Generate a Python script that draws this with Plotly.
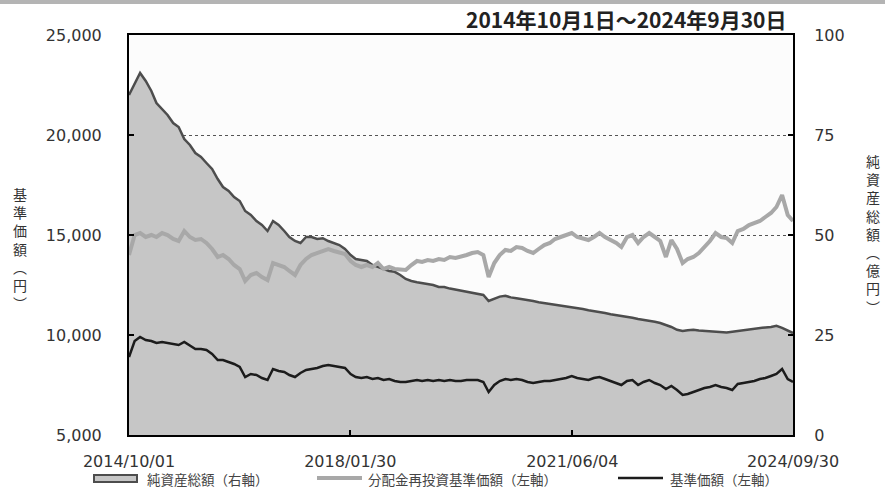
import pandas as pd
import plotly.graph_objects as go

# Monthly observation dates (first business day of each month) + final date
dates = [d.strftime("%Y-%m-%d") for d in pd.date_range("2014-10-01", "2024-09-01", freq="MS")] + ["2024-09-30"]

# 純資産総額（億円） right axis
net_assets = [
    85, 88, 90.5, 88.5, 86, 83, 81.5, 80, 78, 77,
    74, 72.5, 70.5, 69.5, 68, 66.5, 64, 62, 61, 59.5,
    58.5, 56, 55, 53.5, 52.5, 51, 53.5, 52.5, 51, 49.5,
    48.5, 48, 49.5, 49.5, 49, 49.2, 48.5, 48, 47.5, 46.5,
    45, 44, 43.8, 43.5, 42.5, 42, 41.5, 41, 40.8, 40,
    39, 38.5, 38.2, 38, 37.7, 37.5, 37, 37, 36.6, 36.3,
    36, 35.8, 35.5, 35.2, 35, 33.5, 34, 34.6, 34.8, 34.4,
    34.2, 34, 33.7, 33.5, 33.2, 33, 32.8, 32.5, 32.3, 32.2,
    32, 31.8, 31.5, 31.2, 31, 30.8, 30.5, 30.2, 30, 29.8,
    29.5, 29.3, 29, 28.8, 28.6, 28.3, 28, 27.5, 27, 26.3,
    26, 26.2, 26.3, 26.1, 26, 25.9, 25.8, 25.6, 25.6, 25.8,
    26, 26.2, 26.3, 26.5, 26.7, 26.9, 27, 27.3, 26.8, 26.2,
    25.5,
]

# 分配金再投資基準価額（円） left axis
reinvested_nav = [
    14000, 15000, 15100, 14900, 15000, 14900, 15100, 15000, 14800, 14700,
    15200, 14900, 14750, 14800, 14600, 14300, 13900, 14000, 13800, 13500,
    13300, 12700, 13000, 13100, 12900, 12750, 13600, 13500, 13400, 13200,
    13000, 13500, 13800, 14000, 14100, 14200, 14300, 14200, 14150, 14050,
    13700, 13500, 13400, 13500, 13400, 13600, 13300, 13400, 13300, 13250,
    13250, 13500, 13700, 13650, 13750, 13700, 13800, 13750, 13900, 13850,
    13900, 14000, 14100, 14150, 14000, 12900, 13600, 14000, 14250, 14200,
    14400, 14350, 14200, 14100, 14300, 14500, 14600, 14800, 14900, 15000,
    15100, 14900, 14850, 14750, 14900, 15100, 14900, 14750, 14600, 14400,
    14900, 15000, 14600, 14900, 15100, 14900, 14700, 13900, 14750, 14300,
    13600, 13800, 13900, 14100, 14400, 14700, 15100, 14900, 14850, 14600,
    15200, 15300, 15500, 15600, 15700, 15900, 16100, 16400, 17000, 16000,
    15700,
]

# 基準価額（円） left axis
nav = [
    8900, 9700, 9900, 9750, 9700, 9600, 9650, 9600, 9550, 9500,
    9650, 9450, 9300, 9300, 9250, 9050, 8750, 8750, 8650, 8550,
    8400, 7900, 8050, 8000, 7850, 7750, 8300, 8200, 8150, 8000,
    7900, 8100, 8250, 8300, 8350, 8450, 8500, 8450, 8400, 8350,
    8050, 7900, 7850, 7900, 7800, 7850, 7750, 7800, 7700, 7650,
    7650, 7700, 7750, 7700, 7750, 7700, 7750, 7700, 7750, 7700,
    7700, 7750, 7750, 7750, 7650, 7150, 7500, 7700, 7800, 7750,
    7800, 7750, 7650, 7600, 7650, 7700, 7700, 7750, 7800, 7850,
    7950, 7850, 7800, 7750, 7850, 7900, 7800, 7700, 7600, 7500,
    7700, 7750, 7500, 7650, 7750, 7600, 7500, 7300, 7450, 7250,
    7000, 7050, 7150, 7250, 7350, 7400, 7500, 7400, 7350, 7250,
    7550, 7600, 7650, 7700, 7800, 7850, 7950, 8050, 8300, 7800,
    7650,
]

x_tickvals = ["2014-10-01", "2018-01-30", "2021-06-04", "2024-09-30"]
x_ticktext = ["2014/10/01", "2018/01/30", "2021/06/04", "2024/09/30"]
left_ticks = [5000, 10000, 15000, 20000, 25000]
right_ticks = [0, 25, 50, 75, 100]

title_text = "2014年10月1日～2024年9月30日"
legend_labels = ["純資産総額（右軸）", "分配金再投資基準価額（左軸）", "基準価額（左軸）"]

FILL = "#c6c6c6"
FILL_LINE = "#4d4d4d"
LIGHT = "#a8a8a8"
DARK = "#1c1c1c"
NUM_FONT = "DejaVu Sans"
JP_FONT = "Noto Sans CJK JP"

fig = go.Figure()
fig.add_trace(go.Scatter(x=dates, y=net_assets, yaxis="y", mode="lines",
                         fill="tozeroy", fillcolor=FILL,
                         line=dict(color=FILL_LINE, width=2.5), showlegend=False))
fig.add_trace(go.Scatter(x=dates, y=reinvested_nav, yaxis="y2", mode="lines",
                         line=dict(color=LIGHT, width=4), showlegend=False))
fig.add_trace(go.Scatter(x=dates, y=nav, yaxis="y2", mode="lines",
                         line=dict(color=DARK, width=2.5), showlegend=False))

L, R, T, B = 129, 92, 35, 60
W, H = 885, 495
PW, PH = W - L - R, H - T - B

def px(xp):
    return (xp - L) / PW

def py(yp):
    return (H - B - yp) / PH

annotations = [
    dict(text=title_text, x=px(788), y=py(19), xref="paper", yref="paper",
         xanchor="right", yanchor="middle", showarrow=False,
         font=dict(family=JP_FONT, size=21, color="#222", weight="bold")),
    dict(text="<br>".join(list("基準価額")+["︵", "円", "︶"]), x=px(20), y=py(249),
         xref="paper", yref="paper", xanchor="center", yanchor="middle",
         showarrow=False, font=dict(family=JP_FONT, size=14, color="#333")),
    dict(text="<br>".join(list("純資産総額")+["︵", "億", "円", "︶"]), x=px(873), y=py(234),
         xref="paper", yref="paper", xanchor="center", yanchor="middle",
         showarrow=False, font=dict(family=JP_FONT, size=14, color="#333")),
]
leg_text_x = [145, 366, 668]
for t, xx in zip(legend_labels, leg_text_x):
    annotations.append(dict(text=t, x=px(xx), y=py(479), xref="paper", yref="paper",
                            xanchor="left", yanchor="middle", showarrow=False,
                            font=dict(family=JP_FONT, size=13.5, color="#444")))

shapes = [
    dict(type="rect", xref="paper", yref="paper", x0=px(0), x1=px(885), y0=py(0), y1=py(4),
         fillcolor="#b4b4b4", line=dict(width=0), layer="above"),
    dict(type="rect", xref="paper", yref="paper", x0=px(94), x1=px(137), y0=py(482), y1=py(475),
         fillcolor=FILL, line=dict(color=FILL_LINE, width=2)),
    dict(type="line", xref="paper", yref="paper", x0=px(317), x1=px(362), y0=py(478), y1=py(478),
         line=dict(color=LIGHT, width=4)),
    dict(type="line", xref="paper", yref="paper", x0=px(618), x1=px(663), y0=py(478), y1=py(478),
         line=dict(color=DARK, width=2.5)),
]

fig.update_layout(
    width=W, height=H,
    margin=dict(l=L, r=R, t=T, b=B),
    paper_bgcolor="white", plot_bgcolor="#fcfcfc",
    showlegend=False,
    xaxis=dict(type="date", range=["2014-10-01", "2024-09-30"],
               tickvals=x_tickvals, ticktext=x_ticktext,
               ticks="inside", ticklen=5, tickwidth=1.5, tickcolor="black",
               showgrid=False, zeroline=False,
               showline=True, linecolor="black", linewidth=2, mirror=True,
               ticklabelstandoff=11,
               tickfont=dict(family=NUM_FONT, size=16, color="#333")),
    yaxis=dict(side="right", range=[0, 100], tickvals=right_ticks,
               ticks="inside", ticklen=5, tickwidth=1.5, tickcolor="black",
               showgrid=True, gridcolor="#555", griddash="dot", gridwidth=1,
               zeroline=False, showline=True, linecolor="black", linewidth=2,
               ticklabelstandoff=16,
               tickfont=dict(family=NUM_FONT, size=16, color="#333")),
    yaxis2=dict(overlaying="y", side="left", range=[5000, 25000], tickvals=left_ticks,
                tickformat=",", ticks="inside", ticklen=5, tickwidth=1.5, tickcolor="black",
                showgrid=False, zeroline=False, showline=True, linecolor="black", linewidth=2,
                ticklabelstandoff=22,
                tickfont=dict(family=NUM_FONT, size=16, color="#333")),
    annotations=annotations,
    shapes=shapes,
)

fig.write_html("out.html", config={"displayModeBar": False},
               post_script="document.body.style.margin='0';document.body.style.overflow='hidden';")
